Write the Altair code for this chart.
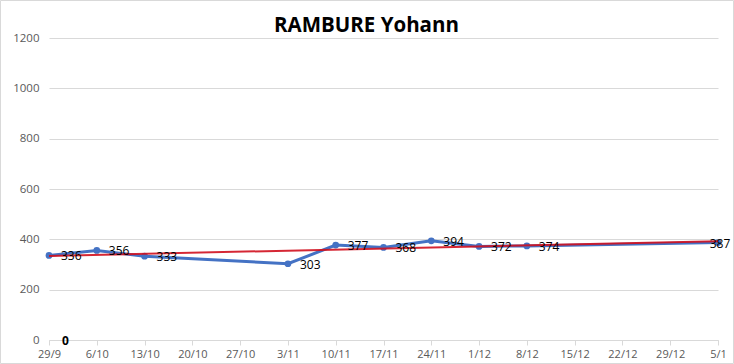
import altair as alt
import pandas as pd

# --- data ---
dates = ["2014-09-29T00:00:00", "2014-10-06T00:00:00", "2014-10-13T00:00:00",
         "2014-11-03T00:00:00", "2014-11-10T00:00:00", "2014-11-17T00:00:00",
         "2014-11-24T00:00:00", "2014-12-01T00:00:00", "2014-12-08T00:00:00",
         "2015-01-05T00:00:00"]
values = [336, 356, 333, 303, 377, 368, 394, 372, 374, 387]

zero_dates = ["2014-09-29T00:00:00"]
zero_values = [0]

tick_days = [(2014, 9, 29), (2014, 10, 6), (2014, 10, 13), (2014, 10, 20), (2014, 10, 27),
             (2014, 11, 3), (2014, 11, 10), (2014, 11, 17), (2014, 11, 24), (2014, 12, 1),
             (2014, 12, 8), (2014, 12, 15), (2014, 12, 22), (2014, 12, 29), (2015, 1, 5)]
y_ticks = [0, 200, 400, 600, 800, 1000, 1200]
title_text = "RAMBURE Yohann"

df = pd.DataFrame({"date": dates, "value": values})
df["last"] = [i == len(values) - 1 for i in range(len(values))]
df0 = pd.DataFrame({"date": zero_dates, "value": zero_values})

FONT = "Open Sans"
GRAY = "#595959"
LIGHT = "#d9d9d9"

tick_vals = [alt.DateTime(year=y, month=m, date=d) for (y, m, d) in tick_days]

x_enc = alt.X(
    "date:T",
    scale=alt.Scale(domain=[tick_vals[0], tick_vals[-1]]),
    axis=alt.Axis(values=tick_vals, format="%-d/%-m", title=None, grid=False,
                  domainColor=LIGHT, tickColor=LIGHT, tickSize=5, labelPadding=3,
                  labelColor=GRAY, labelFont=FONT, labelFontSize=11,
                  labelOverlap=False, labelFlush=False),
)
y_enc = alt.Y(
    "value:Q",
    scale=alt.Scale(domain=[0, 1200]),
    axis=alt.Axis(values=y_ticks, format="d", title=None, domain=False, ticks=False,
                  gridColor=LIGHT, labelColor=GRAY, labelFont=FONT,
                  labelFontSize=11.5, labelPadding=10),
)

base = alt.Chart(df)

blue_line = base.mark_line(color="#4472C4", strokeWidth=3).encode(x=x_enc, y=y_enc)
blue_pts = base.mark_circle(color="#4472C4", size=45, opacity=1).encode(x="date:T", y="value:Q")

trend = base.transform_regression("date", "value", method="linear").mark_line(
    color="#D0101E", strokeWidth=2, opacity=0.9
).encode(x="date:T", y="value:Q")

labels = base.transform_filter("!datum.last").mark_text(
    align="left", baseline="middle", dx=12, dy=1, font=FONT, fontSize=12, color="black"
).encode(x="date:T", y="value:Q", text="value:Q")

last_label = base.transform_filter("datum.last").mark_text(
    align="center", baseline="middle", dx=2, dy=1, font=FONT, fontSize=12, color="black"
).encode(x="date:T", y="value:Q", text="value:Q")

zero_label = alt.Chart(df0).mark_text(
    align="left", baseline="middle", dx=13, dy=1, font=FONT, fontSize=12,
    fontWeight="bold", color="black"
).encode(x="date:T", y="value:Q", text="value:Q")

frame = alt.Chart(df0).mark_rect(fill=None, stroke=LIGHT, strokeWidth=1).encode(
    x=alt.value(-48.5), x2=alt.value(684.5), y=alt.value(-37.5), y2=alt.value(325.5)
)

chart = alt.layer(
    frame, blue_line, blue_pts, trend, labels, last_label, zero_label
).properties(
    width=669,
    height=302,
    background="white",
    autosize=alt.AutoSizeParams(type="none"),
    padding={"left": 49, "top": 38, "right": 16, "bottom": 24},
    title=alt.TitleParams(title_text, font=FONT, fontSize=20.5, fontWeight="bold",
                          color="black", anchor="middle", dx=-17, offset=0, dy=36),
).configure_view(stroke=None)

chart.save("out.html", embed_options={"renderer": "svg", "actions": False})
